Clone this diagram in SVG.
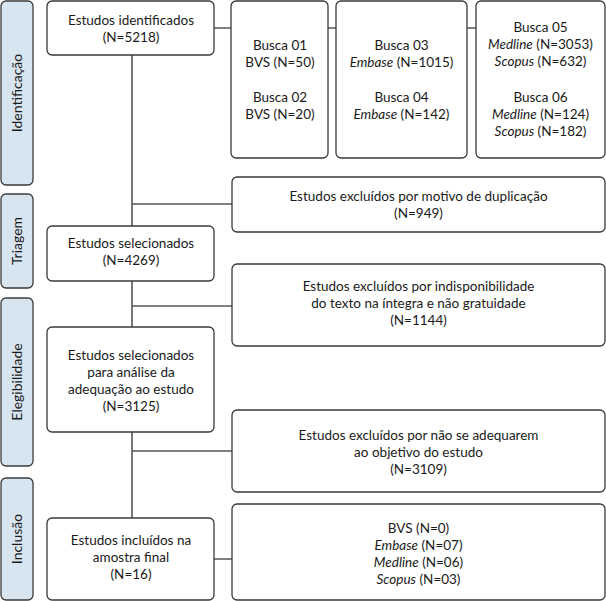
<svg xmlns="http://www.w3.org/2000/svg" width="606" height="601" viewBox="0 0 606 601">
<style>
.side{fill:#d7e5f1;stroke:#3a3a3a;stroke-width:1.3}
.box{fill:#ffffff;stroke:#3a3a3a;stroke-width:1.3}
.t{font-family:Lato,"Open Sans",sans-serif;font-size:13.5px;fill:#1a1a1a;text-anchor:middle}
.s{font-size:14px}
.i{font-style:italic}
.conn{stroke:#555555;stroke-width:1.6;fill:none}
</style>
<rect width="606" height="601" fill="#ffffff"/>
<g id="side-identificacao"><rect class="side" x="1" y="1" width="32" height="184" rx="5"/><text class="t s" transform="translate(22,93) rotate(-90)">Identificação</text></g>
<g id="side-triagem"><rect class="side" x="1" y="194" width="32" height="94" rx="5"/><text class="t s" transform="translate(22,241) rotate(-90)">Triagem</text></g>
<g id="side-elegibilidade"><rect class="side" x="1" y="298" width="32" height="168" rx="5"/><text class="t s" transform="translate(22,382) rotate(-90)">Elegibilidade</text></g>
<g id="side-inclusao"><rect class="side" x="1" y="478" width="32" height="122" rx="5"/><text class="t s" transform="translate(22,539) rotate(-90)">Inclusão</text></g>
<g id="connectors">
<path class="conn" d="M132 55V226M132 281V327M132 432V518"/>
<path class="conn" d="M214 28H231M328 28H336M467 28H476"/>
<path class="conn" d="M132 204H232M132 306H232M132 451H232M214 559H232"/>
</g>
<g id="n-identificados"><rect class="box" x="47" y="1" width="167" height="54" rx="5"/><text class="t" x="131" y="25">Estudos identificados</text><text class="t" x="131" y="42">(N=5218)</text></g>
<g id="n-busca0102"><rect class="box" x="231" y="1" width="97" height="157" rx="5"/><text class="t" x="280" y="50">Busca 01</text><text class="t" x="280" y="67">BVS  (N=50)</text><text class="t" x="280" y="102">Busca 02</text><text class="t" x="280" y="119">BVS (N=20)</text></g>
<g id="n-busca0304"><rect class="box" x="336" y="1" width="131" height="157" rx="5"/><text class="t" x="401.5" y="50">Busca 03</text><text class="t" x="401.5" y="67"><tspan class="i">Embase</tspan> (N=1015)</text><text class="t" x="401.5" y="102">Busca 04</text><text class="t" x="401.5" y="119"><tspan class="i">Embase</tspan> (N=142)</text></g>
<g id="n-busca0506"><rect class="box" x="476" y="1" width="129" height="157" rx="5"/><text class="t" x="540.5" y="32">Busca 05</text><text class="t" x="540.5" y="49"><tspan class="i">Medline</tspan> (N=3053)</text><text class="t" x="540.5" y="66"><tspan class="i">Scopus</tspan> (N=632)</text><text class="t" x="540.5" y="102">Busca 06</text><text class="t" x="540.5" y="119"><tspan class="i">Medline</tspan> (N=124)</text><text class="t" x="540.5" y="136"><tspan class="i">Scopus</tspan> (N=182)</text></g>
<g id="n-excl-dup"><rect class="box" x="232" y="177" width="373" height="55" rx="5"/><text class="t" x="418.5" y="201">Estudos excluídos por motivo de duplicação</text><text class="t" x="418.5" y="218">(N=949)</text></g>
<g id="n-selecionados"><rect class="box" x="47" y="226" width="167" height="55" rx="5"/><text class="t" x="131" y="248">Estudos selecionados</text><text class="t" x="131" y="265">(N=4269)</text></g>
<g id="n-excl-indisp"><rect class="box" x="232" y="264" width="373" height="82" rx="5"/><text class="t" x="418.5" y="291">Estudos excluídos por indisponibilidade</text><text class="t" x="418.5" y="308">do texto na íntegra e não gratuidade</text><text class="t" x="418.5" y="325">(N=1144)</text></g>
<g id="n-adequacao"><rect class="box" x="47" y="327" width="167" height="105" rx="5"/><text class="t" x="131" y="360">Estudos selecionados</text><text class="t" x="131" y="377">para análise da</text><text class="t" x="131" y="394">adequação ao estudo</text><text class="t" x="131" y="411">(N=3125)</text></g>
<g id="n-excl-objetivo"><rect class="box" x="232" y="410" width="373" height="82" rx="5"/><text class="t" x="418.5" y="440">Estudos excluídos por não se adequarem</text><text class="t" x="418.5" y="457">ao objetivo do estudo</text><text class="t" x="418.5" y="474">(N=3109)</text></g>
<g id="n-incluidos"><rect class="box" x="47" y="518" width="167" height="82" rx="5"/><text class="t" x="131" y="545">Estudos incluídos na</text><text class="t" x="131" y="562">amostra final</text><text class="t" x="131" y="579">(N=16)</text></g>
<g id="n-final-bases"><rect class="box" x="232" y="504" width="373" height="96" rx="5"/><text class="t" x="418.5" y="533">BVS (N=0)</text><text class="t" x="418.5" y="550"><tspan class="i">Embase</tspan> (N=07)</text><text class="t" x="418.5" y="567"><tspan class="i">Medline</tspan> (N=06)</text><text class="t" x="418.5" y="584"><tspan class="i">Scopus</tspan> (N=03)</text></g>
</svg>
